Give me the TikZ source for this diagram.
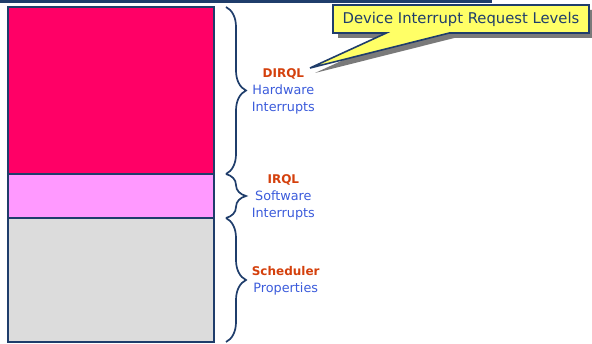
\documentclass[tikz,border=0pt]{standalone}
\usepackage{fontspec}
\setmainfont{DejaVu Sans}
\usetikzlibrary{positioning, chains}
\usetikzlibrary{decorations.pathreplacing, shapes.callouts, shadows}
\definecolor{navy}{HTML}{1F3D6B}
\definecolor{hotpink}{HTML}{FF0066}
\definecolor{lilac}{HTML}{FF99FF}
\definecolor{lgray}{HTML}{DCDCDC}
\definecolor{orng}{HTML}{D4400C}
\definecolor{lblue}{HTML}{3B5BDB}
\definecolor{yellw}{HTML}{FFFF66}
\newcommand{\hdr}[1]{\textcolor{orng}{\bfseries\fontsize{12}{17}\selectfont #1}}

\begin{document}
\begin{tikzpicture}[
    x = 1pt, y = -1pt,
    node distance = 0mm,
    start chain = going below,
    level/.style = {draw=navy, line width=1.6pt, minimum width=206pt,
        inner sep=0pt, outer sep=0pt, on chain},
    brace/.style = {draw=navy, line width=1.7pt, decorate,
        decoration={brace, amplitude=20pt}},
    lbl/.style = {anchor=west, align=center, inner sep=0pt, text=lblue,
        font=\fontsize{12.8}{17}\selectfont},
    note/.style = {rectangle callout, draw=navy, line width=1.6pt, fill=yellw,
        text=navy, font=\fontsize{14.8}{17}\selectfont,
        minimum width=256pt, minimum height=28pt, inner sep=0pt,
        callout pointer width=63pt,
        drop shadow={shadow xshift=5pt, shadow yshift=-5pt, fill=gray!85!black, opacity=.9}}
  ]
  \useasboundingbox (0,0) rectangle (592,344);

  % top rule
  \draw[navy, line width=3pt] (0,1.5) -- (492,1.5);

  % level stack
  \node[level, fill=hotpink, minimum height=167pt, anchor=north west] (dirql) at (8,7) {};
  \node[level, fill=lilac, minimum height=44pt] (irql) {};
  \node[level, fill=lgray, minimum height=124pt] (sched) {};

  \foreach \lvl/\txt in {dirql/{\hdr{DIRQL}\\Hardware\\Interrupts},
                         irql/{\hdr{IRQL}\\Software\\Interrupts},
                         sched/{\hdr{Scheduler}\\Properties}}
  \draw[brace] ([xshift=12pt]\lvl.north east) -- ([xshift=12pt]\lvl.south east)
      node[lbl, midway, xshift=25pt, yshift=-1pt] (\lvl-lbl) {\txt};

  \coordinate (tip) at (310,68);
  \node[note, callout absolute pointer={(tip)}] (callout) at (461,19)
      {Device Interrupt Request Levels};
\end{tikzpicture}
\end{document}
